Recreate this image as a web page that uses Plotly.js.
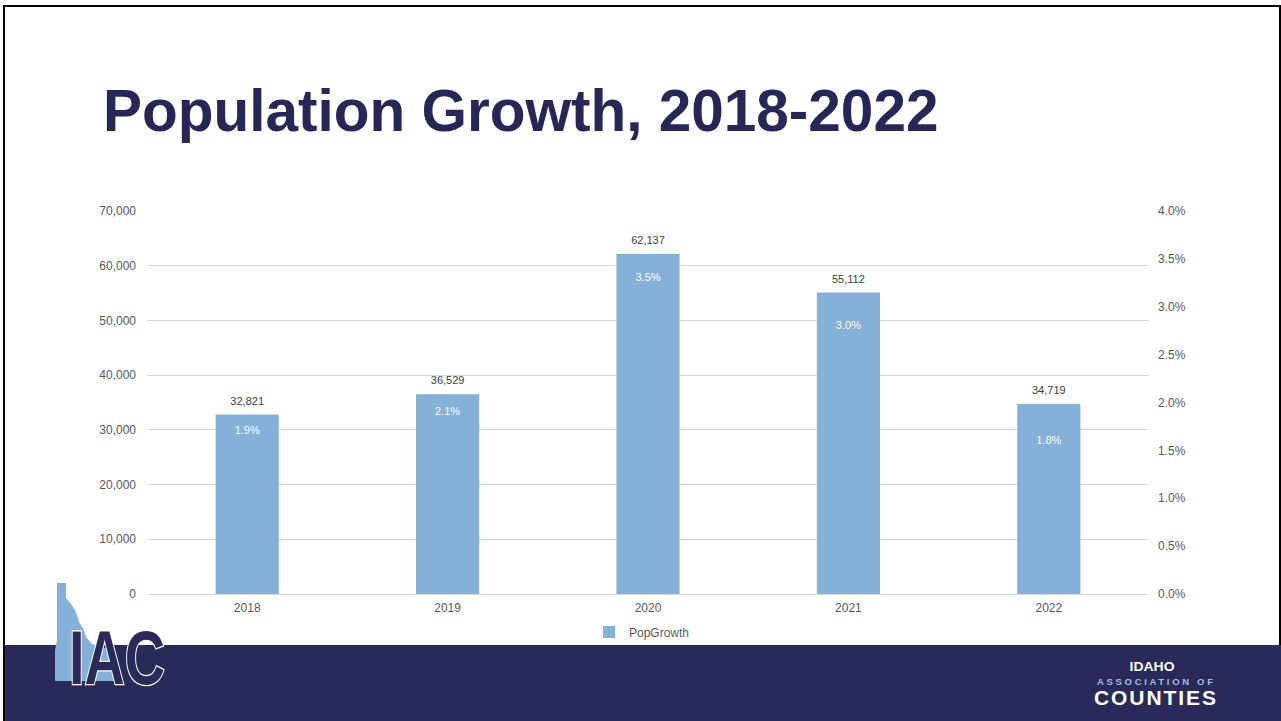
<!DOCTYPE html>
<html>
<head>
<meta charset="utf-8">
<script src="https://cdn.plot.ly/plotly-3.0.1.min.js"></script>
<style>
  html, body { margin: 0; padding: 0; background: #ffffff; }
  #wrap { position: relative; width: 1281px; height: 721px; overflow: hidden; background: #fff; }
  #chart { position: absolute; left: 0; top: 0; width: 1281px; height: 721px; }
  #frame { position: absolute; left: 3px; top: 5px; width: 1274px; height: 720px; border-top: 2px solid #000; border-left: 2px solid #000; border-right: 2px solid #000; pointer-events: none; }
  #band { position: absolute; left: 5px; top: 645px; width: 1276px; height: 76px; background: #29295a; pointer-events: none; }
  .logo { position: absolute; pointer-events: none; }
</style>
</head>
<body>
<div id="wrap">
  <div id="chart"></div>
  <div id="frame"></div>
  <div id="band"></div>
  <svg class="logo" style="left:0;top:570px" width="200" height="130" viewBox="0 570 200 130">
    <path d="M57,583 L66,583 L66,598 L71,604 L76,612 L79,622 L84,630 L86,637 L92,644 L105,648 L114,652 L114,681 L55,681 L55,650 L57,640 Z" fill="#85b0d8"/>
    <text x="69" y="684" font-family="Liberation Sans, Arial, sans-serif" font-weight="bold" font-size="76" fill="#29295a" stroke="#ffffff" stroke-width="2.5" paint-order="stroke" textLength="96" lengthAdjust="spacingAndGlyphs">IAC</text>
  </svg>
  <svg class="logo" style="left:1080px;top:650px" width="160" height="65" viewBox="1080 650 160 65">
    <text x="1152" y="671" text-anchor="middle" font-family="Liberation Sans, Arial, sans-serif" font-weight="bold" font-size="13.5" fill="#ffffff" textLength="45" lengthAdjust="spacingAndGlyphs">IDAHO</text>
    <text x="1155" y="685" text-anchor="middle" font-family="Liberation Sans, Arial, sans-serif" font-weight="bold" font-size="9.5" fill="#9cc0e6" textLength="116" lengthAdjust="spacing">ASSOCIATION OF</text>
    <text x="1155" y="705" text-anchor="middle" font-family="Liberation Sans, Arial, sans-serif" font-weight="bold" font-size="21" fill="#ffffff" textLength="122" lengthAdjust="spacing">COUNTIES</text>
  </svg>
</div>
<script>
// ---- data ----
const years = ["2018", "2019", "2020", "2021", "2022"];
const popGrowth = [32821, 36529, 62137, 55112, 34719];
const pctGrowth = [0.019, 0.021, 0.035, 0.030, 0.018];
const leftTicks = [0, 10000, 20000, 30000, 40000, 50000, 60000, 70000];
const rightTicks = [0, 0.005, 0.01, 0.015, 0.02, 0.025, 0.03, 0.035, 0.04];

const FONT = "Liberation Sans, Arial, sans-serif";
const barColor = "#85b0d8";

const traces = [
  {
    type: "bar",
    name: "PopGrowth",
    x: years,
    y: popGrowth,
    marker: { color: barColor },
    width: 0.315,
    textposition: "none",
    hoverinfo: "skip"
  },
  {
    // value labels above the bars
    type: "scatter",
    mode: "markers+text",
    x: years,
    y: popGrowth,
    marker: { size: 9.5, opacity: 0 },
    text: popGrowth.map(v => v.toLocaleString("en-US")),
    textposition: "top center",
    textfont: { family: FONT, size: 11, color: "#404040" },
    showlegend: false,
    hoverinfo: "skip",
    cliponaxis: false
  },
  {
    // percent growth labels (secondary axis)
    type: "scatter",
    mode: "markers+text",
    x: years,
    y: pctGrowth,
    yaxis: "y2",
    marker: { size: 21, opacity: 0 },
    text: pctGrowth.map(v => (v * 100).toFixed(1) + "%"),
    textposition: "bottom center",
    textfont: { family: FONT, size: 11, color: "#ffffff" },
    showlegend: false,
    hoverinfo: "skip",
    cliponaxis: false
  }
];

const layout = {
  width: 1281,
  height: 721,
  margin: { l: 147, r: 132, t: 211, b: 127, pad: 0 },
  paper_bgcolor: "rgba(0,0,0,0)",
  plot_bgcolor: "#ffffff",
  font: { family: FONT, size: 12, color: "#595959" },
  showlegend: true,
  hovermode: false,
  title: {
    text: "<b>Population Growth, 2018-2022</b>",
    font: { family: FONT, size: 58.5, color: "#262756" },
    x: 103 / 1281,
    xanchor: "left",
    xref: "container",
    y: 1 - 111 / 721,
    yanchor: "middle",
    yref: "container"
  },
  xaxis: {
    type: "category",
    showgrid: false,
    zeroline: false,
    showline: false,
    ticks: "",
    ticklabelstandoff: 5,
    tickfont: { family: FONT, size: 12, color: "#595959" },
    fixedrange: true
  },
  yaxis: {
    range: [0, 70000],
    tickvals: leftTicks,
    tickformat: ",",
    showgrid: true,
    gridcolor: "#d9d9d9",
    gridwidth: 1,
    zeroline: true,
    zerolinecolor: "#d9d9d9",
    zerolinewidth: 1,
    showline: false,
    ticks: "",
    ticklabelstandoff: 10,
    tickfont: { family: FONT, size: 12, color: "#595959" },
    fixedrange: true
  },
  yaxis2: {
    overlaying: "y",
    side: "right",
    range: [0, 0.04],
    tickvals: rightTicks,
    tickformat: ".1%",
    showgrid: false,
    zeroline: false,
    showline: false,
    ticks: "",
    ticklabelstandoff: 8,
    tickfont: { family: FONT, size: 12, color: "#595959" },
    fixedrange: true
  },
  legend: {
    orientation: "h",
    x: 0.494,
    xanchor: "center",
    y: -0.099,
    yanchor: "middle",
    itemwidth: 30,
    font: { family: FONT, size: 12, color: "#595959" },
    bgcolor: "rgba(0,0,0,0)"
  }
};

Plotly.newPlot("chart", traces, layout, { displayModeBar: false, staticPlot: true });
</script>
</body>
</html>
